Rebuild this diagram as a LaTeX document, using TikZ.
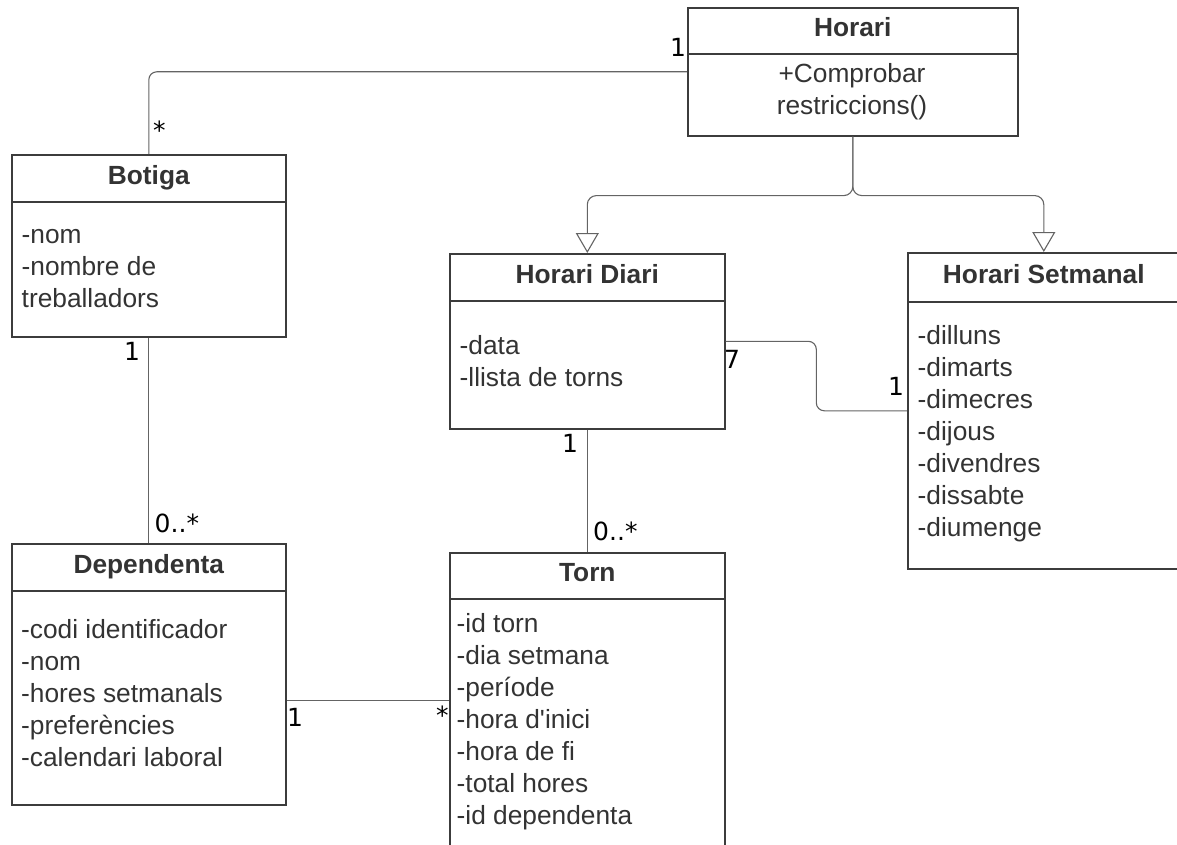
\documentclass[tikz,border=0pt]{standalone}
\usepackage{fontspec}
\setmainfont{Liberation Sans}
\newfontfamily\labelfont{DejaVu Sans}
\usetikzlibrary{arrows.meta,calc}
\definecolor{ink}{HTML}{333333}
\definecolor{edge}{HTML}{3C3C3C}
\definecolor{wirecol}{HTML}{646464}

\tikzset{
  classbox/.style={draw=edge, line width=1.6pt, anchor=north west, inner sep=0pt},
  classhead/.style={draw=edge, line width=1.6pt, anchor=north west, inner sep=0pt,
    font=\fontsize{26.3}{32}\selectfont\bfseries, text=ink, text height=18.5pt, text depth=7pt},
  attrs/.style={anchor=north west, inner sep=0pt, align=left,
    font=\fontsize{26.3}{32}\selectfont, text=ink},
  mult/.style={anchor=base west, inner sep=0pt,
    font=\labelfont\fontsize{25}{30}\selectfont, text=black},
  wire/.style={draw=wirecol, line width=1.1pt},
  inherit/.style={wire, rounded corners=9pt,
    -{Triangle[open, length=20pt, width=23pt, fill=white]}},
}

\begin{document}
\begin{tikzpicture}[x=1pt,y=-1pt]
\useasboundingbox (0,0) rectangle (1177,845);

% Horari
\node[classbox, minimum width=330, minimum height=128] (horari) at (687,7) {};
\node[classhead, minimum width=330, minimum height=46] (horariH) at (687,7) {Horari};
\node[attrs, align=center, anchor=north] (horariM) at (852,59.6) {\strut+Comprobar\\restriccions()};

% Botiga
\node[classbox, minimum width=274, minimum height=182] (botiga) at (11,154) {};
\node[classhead, minimum width=274, minimum height=47] (botigaH) at (11,154) {Botiga};
\node[attrs] (botigaA) at (21.5,220.6) {\strut-nom\\-nombre de\\treballadors};

% Dependenta
\node[classbox, minimum width=274, minimum height=261] (dependenta) at (11,543) {};
\node[classhead, minimum width=274, minimum height=47] (dependentaH) at (11,543) {Dependenta};
\node[attrs] (dependentaA) at (21,615.6)
  {\strut-codi identificador\\-nom\\-hores setmanals\\-preferències\\-calendari laboral};

% Horari Diari
\node[classbox, minimum width=275, minimum height=175] (diari) at (449,253) {};
\node[classhead, minimum width=275, minimum height=47] (diariH) at (449,253) {Horari Diari};
\node[attrs] (diariA) at (459.5,331.6) {\strut-data\\-llista de torns};

% Horari Setmanal
\node[classbox, minimum width=272, minimum height=316] (setmanal) at (907,252) {};
\node[classhead, minimum width=272, minimum height=49] (setmanalH) at (907,252) {Horari Setmanal};
\node[attrs] (setmanalA) at (917.5,321.6)
  {\strut-dilluns\\-dimarts\\-dimecres\\-dijous\\-divendres\\-dissabte\\-diumenge};

% Torn
\node[classbox, minimum width=275, minimum height=310] (torn) at (449,552) {};
\node[classhead, minimum width=275, minimum height=46] (tornH) at (449,552) {Torn};
\node[attrs] (tornA) at (456.5,609.6)
  {\strut-id torn\\-dia setmana\\-període\\-hora d\textquotesingle inici\\-hora de fi\\-total hores\\-id dependenta};

% Associations
\draw[wire, rounded corners=8pt] (horari.west) -| (botiga.north);
\draw[wire] (botiga.south) -- (dependenta.north);
\draw[wire] ([yshift=-26.5pt]dependenta.east) coordinate (depT) -- (depT -| torn.west);
\draw[wire] (diari.south) -- (torn.north);
\draw[wire, rounded corners=8pt] (diari.east)
  -| ($(diari.east)!0.5!(setmanal.west)$) |- (setmanal.west);

% Generalisation
\coordinate (split) at ([yshift=-59pt]horari.south);
\draw[inherit] (horari.south) -- (split) -| (diari.north);
\draw[inherit] (horari.south) -- (split) -| (setmanal.north);

% Multiplicities
\node[mult] (mHorari) at (670,57) {1};
\node[mult] (mBotigaTop) at (153,140) {*};
\node[mult] (mBotigaBot) at (124,360) {1};
\node[mult] (mDepTop) at (154.5,532) {0..*};
\node[mult] (mDepRight) at (287,726) {1};
\node[mult] (mTornLeft) at (436,724) {*};
\node[mult] (mDiariRight) at (724,368) {7};
\node[mult] (mSetmanal) at (888,395) {1};
\node[mult] (mDiariBot) at (562,452) {1};
\node[mult] (mTornTop) at (593,540) {0..*};
\end{tikzpicture}
\end{document}
